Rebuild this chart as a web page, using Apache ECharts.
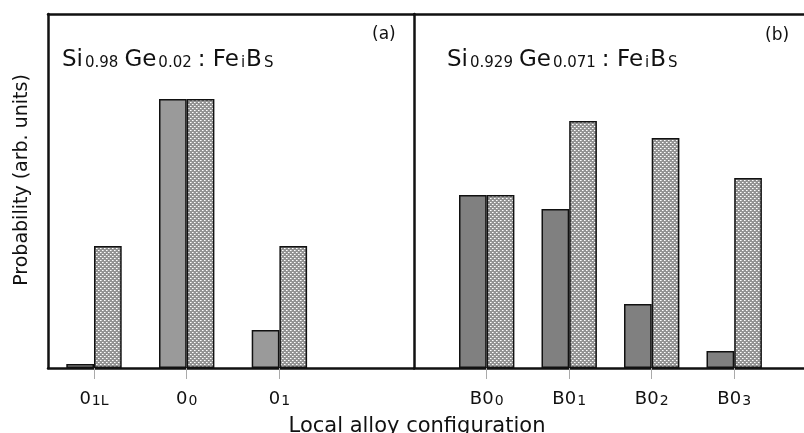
<!DOCTYPE html>
<html>
<head>
<meta charset="utf-8">
<script src="https://cdn.jsdelivr.net/npm/echarts@6/dist/echarts.min.js"></script>
<style>
  html, body { margin: 0; background: #fff; }
  #chart { width: 804px; height: 433px; }
</style>
</head>
<body>
<div id="chart"></div>
<script>
// categories: main text and subscript split by "_"
var leftCats = ['0_1L', '0_0', '0_1'];
var rightCats = ['B0_0', 'B0_1', 'B0_2', 'B0_3'];
// bar heights (arb. units)
var leftSolid = [4, 269, 38];
var leftHatched = [122, 269, 122];
var rightSolid = [173, 159, 64, 17];
var rightHatched = [173, 247, 230, 190];
var yMax = 355;

var FONT = 'DejaVu Sans';
var INK = '#111';

// checkered fill for the hatched bars
function makeHatch() {
  var c = document.createElement('canvas');
  c.width = 4; c.height = 4;
  var g = c.getContext('2d');
  g.fillStyle = '#939393';
  g.fillRect(0, 0, 4, 4);
  g.fillStyle = '#ffffff';
  g.fillRect(0, 0, 1, 1);
  g.fillRect(2, 2, 1, 1);
  g.fillStyle = '#d0d0d0';
  g.fillRect(1, 0, 1, 1);
  g.fillRect(3, 2, 1, 1);
  return c;
}
var hatch = makeHatch();

var subRich = {
  n: { fontSize: 23, fontFamily: FONT, fontWeight: 'normal', color: INK, verticalAlign: 'bottom', lineHeight: 27, padding: [0, 1, 0, 0] },
  s: { fontSize: 15, fontFamily: FONT, fontWeight: 'normal', color: INK, verticalAlign: 'bottom', lineHeight: 27, padding: [0, 1, 1, 1] }
};
var labRich = {
  m: { fontSize: 18, fontFamily: FONT, color: INK, verticalAlign: 'bottom', lineHeight: 22 },
  s: { fontSize: 14, fontFamily: FONT, color: INK, verticalAlign: 'bottom', lineHeight: 22, padding: [0, 0, 0, 1] }
};
function catLabel(v) {
  var p = v.split('_');
  return '{m|' + p[0] + '}{s|' + p[1] + '}';
}

var frameLine = { show: true, lineStyle: { color: INK, width: 2.5 } };
function frameX(grid, pos) {
  return { type: 'value', gridIndex: grid, position: pos, min: 0, max: 1,
    axisLine: frameLine, axisTick: { show: false }, axisLabel: { show: false }, splitLine: { show: false } };
}
function frameY(grid) {
  return { type: 'value', gridIndex: grid, position: 'left', min: 0, max: 1,
    axisLine: frameLine, axisTick: { show: false }, axisLabel: { show: false }, splitLine: { show: false } };
}
function barX(grid, cats) {
  return { type: 'category', gridIndex: grid, data: cats,
    axisLine: { show: false },
    axisTick: { show: true, alignWithLabel: true, length: 11, lineStyle: { color: '#aaa', width: 1 } },
    axisLabel: { margin: 18, formatter: catLabel, rich: labRich } };
}
function barY(grid) {
  return { type: 'value', gridIndex: grid, min: 0, max: yMax, show: false };
}
function bars(ax, data, fill) {
  return { type: 'bar', xAxisIndex: ax, yAxisIndex: ax - 2, data: data,
    barWidth: 27.7, barGap: '0%', animation: false,
    itemStyle: { color: fill, borderColor: INK, borderWidth: 1.5 } };
}

var chart = echarts.init(document.getElementById('chart'), null, { renderer: 'canvas' });
chart.setOption({
  backgroundColor: '#fff',
  animation: false,
  title: [
    { text: '{n|Si}{s|0.98} {n|Ge}{s|0.02} {n|: Fe}{s|i}{n|B}{s|S}', left: 62, top: 45, padding: 0,
      textStyle: { fontWeight: 'normal', rich: subRich } },
    { text: '{n|Si}{s|0.929} {n|Ge}{s|0.071} {n|: Fe}{s|i}{n|B}{s|S}', left: 447, top: 45, padding: 0,
      textStyle: { fontWeight: 'normal', rich: subRich } },
    { text: '(a)', left: 372, top: 26, padding: 0,
      textStyle: { fontSize: 17, fontWeight: 'normal', fontFamily: FONT, color: INK } },
    { text: '(b)', left: 765, top: 27, padding: 0,
      textStyle: { fontSize: 17, fontWeight: 'normal', fontFamily: FONT, color: INK } }
  ],
  graphic: [
    { type: 'text', x: 417, y: 416, style: { text: 'Local alloy configuration', font: '21px "DejaVu Sans"',
      fill: INK, textAlign: 'center', textVerticalAlign: 'top' } },
    { type: 'text', x: 22, y: 180, rotation: Math.PI / 2, style: { text: 'Probability (arb. units)',
      font: '19px "DejaVu Sans"', fill: INK, textAlign: 'center', textVerticalAlign: 'middle' } }
  ],
  grid: [
    { left: 48, top: 14, width: 366, height: 354 },
    { left: 414, top: 14, width: 420, height: 354 },
    { left: 47.65, top: 13, width: 278.1, height: 355 },
    { left: 445.45, top: 13, width: 330, height: 355 }
  ],
  xAxis: [
    frameX(0, 'bottom'), frameX(0, 'top'),
    frameX(1, 'bottom'), frameX(1, 'top'),
    barX(2, leftCats), barX(3, rightCats)
  ],
  yAxis: [frameY(0), frameY(1), barY(2), barY(3)],
  series: [
    bars(4, leftSolid, '#9a9a9a'),
    bars(4, leftHatched, { image: hatch, repeat: 'repeat' }),
    bars(5, rightSolid, '#808080'),
    bars(5, rightHatched, { image: hatch, repeat: 'repeat' })
  ]
});
</script>
</body>
</html>
